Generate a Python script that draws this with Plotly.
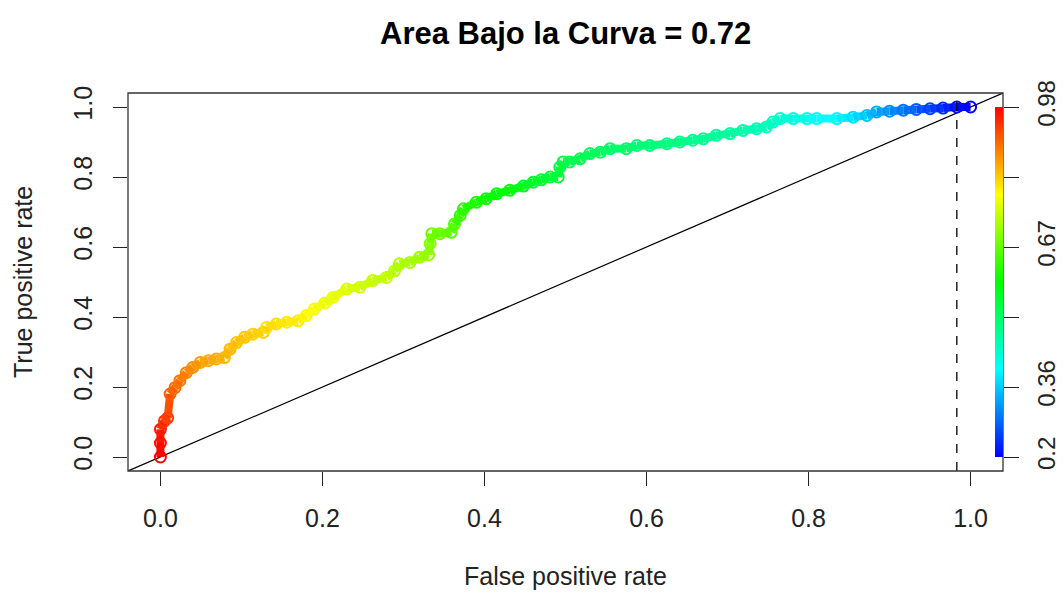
import colorsys
import plotly.graph_objects as go

# ---------------- data ----------------
fpr = [0.000, 0.000, 0.000, 0.005, 0.009, 0.012, 0.018, 0.024, 0.032, 0.040,
       0.049, 0.059, 0.069, 0.079, 0.086, 0.094, 0.104, 0.114, 0.127, 0.131,
       0.143, 0.156, 0.170, 0.180, 0.190, 0.203, 0.213, 0.230, 0.246, 0.262,
       0.279, 0.289, 0.295, 0.308, 0.320, 0.331, 0.333, 0.335, 0.345, 0.359,
       0.363, 0.370, 0.374, 0.390, 0.402, 0.415, 0.431, 0.448, 0.460, 0.470,
       0.481, 0.491, 0.493, 0.497, 0.505, 0.518, 0.530, 0.543, 0.555, 0.575,
       0.588, 0.604, 0.625, 0.641, 0.657, 0.670, 0.686, 0.703, 0.719, 0.736,
       0.748, 0.756, 0.765, 0.781, 0.798, 0.810, 0.835, 0.855, 0.872, 0.884,
       0.900, 0.917, 0.933, 0.950, 0.966, 0.983, 1.000]
tpr = [0.000, 0.040, 0.079, 0.103, 0.112, 0.180, 0.198, 0.218, 0.241, 0.256,
       0.270, 0.275, 0.280, 0.284, 0.308, 0.327, 0.342, 0.351, 0.356, 0.370,
       0.380, 0.385, 0.389, 0.404, 0.423, 0.440, 0.456, 0.480, 0.485, 0.504,
       0.513, 0.532, 0.552, 0.556, 0.571, 0.578, 0.610, 0.638, 0.638, 0.642,
       0.666, 0.690, 0.709, 0.728, 0.738, 0.752, 0.762, 0.774, 0.785, 0.792,
       0.800, 0.800, 0.828, 0.843, 0.843, 0.852, 0.867, 0.871, 0.881, 0.881,
       0.890, 0.890, 0.895, 0.900, 0.905, 0.909, 0.919, 0.924, 0.933, 0.938,
       0.943, 0.957, 0.967, 0.967, 0.967, 0.967, 0.967, 0.971, 0.976, 0.986,
       0.988, 0.991, 0.993, 0.995, 0.997, 1.000, 1.000]
cutoff = [0.98, 0.97, 0.96, 0.94, 0.93, 0.91, 0.90, 0.89, 0.88, 0.87,
          0.86, 0.85, 0.85, 0.84, 0.84, 0.83, 0.83, 0.82, 0.82, 0.81,
          0.81, 0.80, 0.80, 0.79, 0.78, 0.77, 0.77, 0.76, 0.75, 0.74,
          0.74, 0.73, 0.72, 0.72, 0.71, 0.70, 0.69, 0.67, 0.67, 0.66,
          0.65, 0.63, 0.62, 0.61, 0.60, 0.59, 0.58, 0.57, 0.56, 0.56,
          0.55, 0.55, 0.54, 0.54, 0.53, 0.53, 0.52, 0.52, 0.51, 0.51,
          0.50, 0.50, 0.49, 0.49, 0.48, 0.48, 0.47, 0.47, 0.46, 0.45,
          0.45, 0.44, 0.43, 0.42, 0.41, 0.40, 0.39, 0.37, 0.35, 0.33,
          0.31, 0.29, 0.27, 0.25, 0.23, 0.21, 0.20]

x_tick_vals = [0.0, 0.2, 0.4, 0.6, 0.8, 1.0]
x_tick_text = ["0.0", "0.2", "0.4", "0.6", "0.8", "1.0"]
y_tick_vals = [0.0, 0.2, 0.4, 0.6, 0.8, 1.0]
y_tick_text = ["0.0", "0.2", "0.4", "0.6", "0.8", "1.0"]
cbar_tick_text = ["0.2", "0.36", "", "0.67", "", "0.98"]
cut_min, cut_max = 0.2, 0.98
optimal_fpr = 0.983
auc_value = 0.72

title_text = "Area Bajo la Curva = %.2f" % auc_value
x_title = "False positive rate"
y_title = "True positive rate"

# ---------------- styling ----------------
FONT = "Liberation Sans, Arial, sans-serif"
RANGE = [-0.04, 1.04]
rainbow = [[0.0, "rgb(0,0,255)"], [0.25, "rgb(0,255,255)"], [0.5, "rgb(0,255,0)"],
           [0.75, "rgb(255,255,0)"], [1.0, "rgb(255,0,0)"]]


def cut_color(c):
    f = (c - cut_min) / (cut_max - cut_min)
    f = min(max(f, 0.0), 1.0)
    r, g, b = colorsys.hsv_to_rgb((1 - f) * 240 / 360.0, 1, 1)
    return "rgb(%d,%d,%d)" % (round(r * 255), round(g * 255), round(b * 255))


fig = go.Figure()

# diagonal reference line
fig.add_trace(go.Scatter(x=RANGE, y=RANGE, mode="lines",
                         line=dict(color="black", width=1.2),
                         hoverinfo="skip", showlegend=False))

# coloured ROC segments
for i in range(len(fpr) - 1):
    c = (cutoff[i] + cutoff[i + 1]) / 2
    fig.add_trace(go.Scatter(x=fpr[i:i + 2], y=tpr[i:i + 2], mode="lines",
                             line=dict(color=cut_color(c), width=8),
                             hoverinfo="skip", showlegend=False))

# points (open circles) + colour bar
fig.add_trace(go.Scatter(
    x=fpr, y=tpr, mode="markers", showlegend=False,
    customdata=cutoff,
    hovertemplate="FPR %{x}<br>TPR %{y}<br>cutoff %{customdata}<extra></extra>",
    marker=dict(symbol="circle-open", size=11, color=cutoff,
                colorscale=rainbow, cmin=cut_min, cmax=cut_max,
                line=dict(width=2),
                showscale=True,
                colorbar=dict(thickness=8, lenmode="pixels", len=350,
                              x=(995 - 128) / 875, xanchor="left", xpad=0,
                              y=0.5, yanchor="middle", ypad=0,
                              outlinewidth=0, showticklabels=False, ticks=""))))

# dummy trace for right axis
fig.add_trace(go.Scatter(x=[None], y=[None], yaxis="y2", showlegend=False))

fig.add_shape(type="line", xref="x", yref="paper", x0=optimal_fpr, x1=optimal_fpr,
              y0=0, y1=1, line=dict(color="black", width=1.3, dash="dash"))
fig.add_shape(type="rect", xref="paper", yref="paper", x0=0, x1=1, y0=0, y1=1,
              line=dict(color="#333333", width=1.3))

axis_font = dict(family=FONT, size=25, color="#222222")
right_font = dict(family=FONT, size=24, color="#222222")
fig.update_layout(
    width=1063, height=592,
    margin=dict(l=128, r=60, t=93, b=121, autoexpand=False),
    paper_bgcolor="white", plot_bgcolor="white",
    font=dict(family=FONT, color="black"),
    xaxis=dict(range=RANGE, tickvals=x_tick_vals, ticktext=x_tick_text,
               ticks="outside", ticklen=14, tickwidth=1.3, tickcolor="#222222",
               tickfont=axis_font, ticklabelstandoff=11,
               showgrid=False, zeroline=False, showline=False),
    yaxis=dict(range=RANGE, tickvals=y_tick_vals, ticktext=y_tick_text,
               ticks="outside", ticklen=14, tickwidth=1.3, tickcolor="#222222",
               tickfont=axis_font, tickangle=-90, ticklabelstandoff=11,
               showgrid=False, zeroline=False, showline=False),
    yaxis2=dict(range=RANGE, overlaying="y", side="right",
                tickvals=y_tick_vals, ticktext=cbar_tick_text,
                ticks="outside", ticklen=15, tickwidth=1.3, tickcolor="#222222",
                tickfont=right_font, tickangle=-90, ticklabelstandoff=7,
                showgrid=False, zeroline=False, showline=False),
    annotations=[
        dict(text=title_text, xref="paper", yref="paper", x=0.5, y=1 + 60 / 378,
             xanchor="center", yanchor="middle", showarrow=False,
             font=dict(family=FONT, size=31, color="black", weight="bold")),
        dict(text=x_title, xref="paper", yref="paper", x=0.5, y=-105 / 378,
             xanchor="center", yanchor="middle", showarrow=False,
             font=axis_font),
        dict(text=y_title, xref="paper", yref="paper", x=(23 - 128) / 875, y=0.5,
             xanchor="center", yanchor="middle", textangle=-90, showarrow=False,
             font=axis_font),
    ],
)

fig.write_html("out.html", config={"displayModeBar": False},
               post_script="document.body.style.margin='0';")
